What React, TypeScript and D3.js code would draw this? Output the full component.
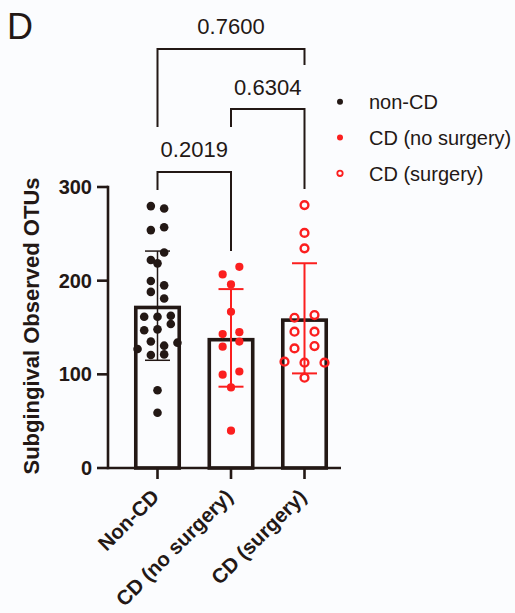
import React from "react";
import * as d3 from "d3";

const categories = ["Non-CD", "CD (no surgery)", "CD (surgery)"];
const legendLabels = ["non-CD", "CD (no surgery)", "CD (surgery)"];
const nonCD = [279.6, 277, 254, 257, 222, 230, 218.5, 199.6, 195, 188, 181, 161.5, 161.5, 162.6, 147, 148, 153.7, 127, 135, 130.6, 133.8, 120.6, 121.3, 83, 59];
const cdNoSurgery = [206.7, 214.8, 196, 166.8, 143, 145, 129.5, 135, 99.6, 103, 86, 39.8];
const cdSurgery = [280.7, 251, 234.5, 160.4, 163.3, 145.5, 145.5, 127.7, 130.2, 113.5, 112.4, 112.4, 96.4];
const means = [173.3, 138.9, 159.8];
const sds = [58.3, 52.1, 58.8];
const yTicks = [0, 100, 200, 300];
const comparisons: [number, number][] = [[0, 1], [1, 2], [0, 2]];
const pValues = ["0.2019", "0.6304", "0.7600"];

const groups = [nonCD, cdNoSurgery, cdSurgery];

const DARK = "#231815";
const RED = "#fb1f1f";
const W = 515, H = 613;
const swarmSpacing = [13.3, 16.7, 20];
const rowThreshold = 8.5;

function swarm(values: number[], spacing: number): number[] {
  const idx = values.map((_, i) => i).sort((a, b) => values[b] - values[a]);
  const offsets = new Array(values.length).fill(0);
  let row: number[] = [];
  const flush = () => {
    const r = [...row].sort((a, b) => a - b);
    const n = r.length;
    r.forEach((k, i) => { offsets[k] = (i - (n - 1) / 2) * spacing; });
    row = [];
  };
  idx.forEach((k) => {
    if (row.length && values[row[0]] - values[k] > rowThreshold) flush();
    row.push(k);
  });
  if (row.length) flush();
  return offsets;
}

export default function App() {
  const x = d3.scaleBand<string>().domain(categories).range([120.75, 341.25]);
  const y = d3.scaleLinear().domain([0, 300]).range([468, 187]);
  const bw = x.bandwidth() * 0.64;
  const cx = (i: number) => (x(categories[i]) as number) + x.bandwidth() / 2;
  const axisLeft = 108;
  const axisRight = 341;
  const barSW = 3.6;

  // bracket layout: horizontal y, left leg end, right leg end
  const bracketLayout = [
    { h: 172, l: 190, r: 251, ty: 157 },
    { h: 109, l: 127, r: 189, ty: 95 },
    { h: 49, l: 127, r: 65, ty: 34 },
  ];

  return (
    <svg width={W} height={H} style={{ position: "absolute", left: 0, top: 0 }} fontFamily="'Liberation Sans', Arial, Helvetica, sans-serif">
      <rect width={W} height={H} fill="#fbfcfe" />
      <text x={7} y={39} fontSize={36} fill={DARK}>D</text>

      {/* bars (stroke drawn inside the bar outline) */}
      {categories.map((c, i) => (
        <rect key={c} x={cx(i) - bw / 2 + barSW / 2} y={y(means[i]) + barSW / 2} width={bw - barSW}
          height={y(0) - y(means[i]) - barSW / 2} fill="none" stroke={DARK} strokeWidth={barSW} />
      ))}

      {/* points */}
      {groups.map((vals, gi) => {
        const offs = swarm(vals, swarmSpacing[gi]);
        return vals.map((v, j) => {
          const px = cx(gi) + offs[j];
          const py = y(v);
          if (gi === 0) return <circle key={`${gi}-${j}`} cx={px} cy={py} r={4.3} fill={DARK} />;
          if (gi === 1) return <circle key={`${gi}-${j}`} cx={px} cy={py} r={4.1} fill={RED} />;
          return <circle key={`${gi}-${j}`} cx={px} cy={py} r={3.9} fill="none" stroke={RED} strokeWidth={2.4} />;
        });
      })}

      {/* error bars */}
      {categories.map((c, i) => {
        const col = i === 0 ? DARK : RED;
        const sw = i === 0 ? 1.5 : 2;
        const top = y(means[i] + sds[i]);
        const bot = y(means[i] - sds[i]);
        const xc = cx(i);
        return (
          <g key={c} stroke={col} strokeWidth={sw}>
            <line x1={xc} x2={xc} y1={top} y2={bot} />
            <line x1={xc - 12.5} x2={xc + 12.5} y1={top} y2={top} />
            <line x1={xc - 12.5} x2={xc + 12.5} y1={bot} y2={bot} />
          </g>
        );
      })}

      {/* axes */}
      <g stroke={DARK} strokeWidth={2.6}>
        <line x1={axisLeft} x2={axisLeft} y1={y(300) - 1.3} y2={y(0) + 1.3} />
        <line x1={axisLeft} x2={axisRight} y1={y(0)} y2={y(0)} />
        {yTicks.map((t) => (
          <line key={t} x1={axisLeft - 11} x2={axisLeft} y1={y(t)} y2={y(t)} />
        ))}
        {categories.map((c, i) => (
          <line key={c} x1={cx(i)} x2={cx(i)} y1={y(0)} y2={y(0) + 11} />
        ))}
      </g>
      {yTicks.map((t) => (
        <text key={t} x={92} y={y(t) + 7} textAnchor="end" fontSize={20} fontWeight="bold" fill={DARK}>{t}</text>
      ))}
      {categories.map((c, i) => (
        <text key={c} transform={`translate(${cx(i) + 3},${y(0) + 30}) rotate(-45)`} textAnchor="end"
          fontSize={20.5} fontWeight="bold" fill={DARK}>{c}</text>
      ))}
      <text transform={`translate(39,326) rotate(-90)`} textAnchor="middle" fontSize={22} fontWeight="bold" fill={DARK}>
        Subgingival Observed OTUs
      </text>

      {/* significance brackets */}
      {comparisons.map(([a, b], k) => {
        const L = bracketLayout[k];
        const xa = cx(a), xb = cx(b);
        return (
          <g key={k}>
            <path d={`M${xa},${L.l}V${L.h}H${xb}V${L.r}`} fill="none" stroke={DARK} strokeWidth={2} />
            <text x={(xa + xb) / 2} y={L.ty} textAnchor="middle" fontSize={22} fill={DARK}>{pValues[k]}</text>
          </g>
        );
      })}

      {/* legend */}
      {legendLabels.map((lab, i) => {
        const ly = 101.7 + i * 35.8;
        return (
          <g key={lab}>
            {i === 0 && <circle cx={340} cy={ly} r={3} fill={DARK} />}
            {i === 1 && <circle cx={340} cy={ly} r={3} fill={RED} />}
            {i === 2 && <circle cx={340} cy={ly} r={2.7} fill="none" stroke={RED} strokeWidth={1.8} />}
            <text x={369} y={ly + 7.3} fontSize={20} fill={DARK}>{lab}</text>
          </g>
        );
      })}
    </svg>
  );
}
